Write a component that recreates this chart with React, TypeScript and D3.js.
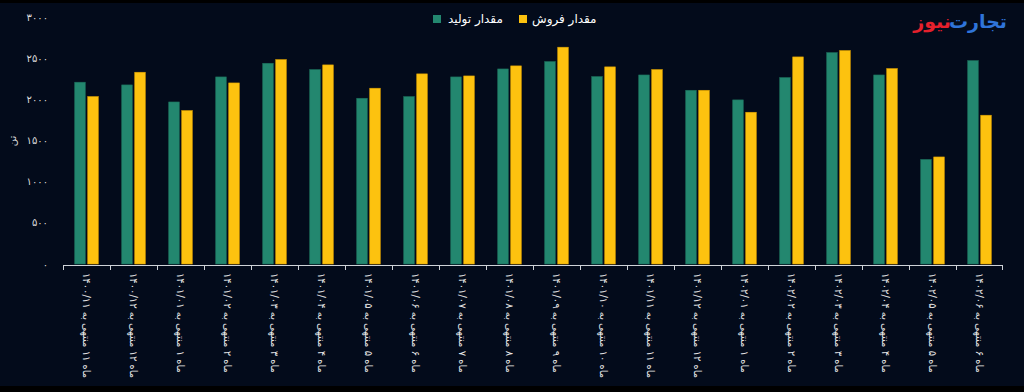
import React from 'react';
import * as d3 from 'd3';

// categories (months), production and sales in tonnes
const months = [
  'ماه ۱۱ منتهی به ۱۴۰۰/۱۱', 'ماه ۱۲ منتهی به ۱۴۰۰/۱۲', 'ماه ۱ منتهی به ۱۴۰۱/۰۱', 'ماه ۲ منتهی به ۱۴۰۱/۰۲',
  'ماه ۳ منتهی به ۱۴۰۱/۰۳', 'ماه ۴ منتهی به ۱۴۰۱/۰۴', 'ماه ۵ منتهی به ۱۴۰۱/۰۵', 'ماه ۶ منتهی به ۱۴۰۱/۰۶',
  'ماه ۷ منتهی به ۱۴۰۱/۰۷', 'ماه ۸ منتهی به ۱۴۰۱/۰۸', 'ماه ۹ منتهی به ۱۴۰۱/۰۹', 'ماه ۱۰ منتهی به ۱۴۰۱/۱۰',
  'ماه ۱۱ منتهی به ۱۴۰۱/۱۱', 'ماه ۱۲ منتهی به ۱۴۰۱/۱۲', 'ماه ۱ منتهی به ۱۴۰۲/۰۱', 'ماه ۲ منتهی به ۱۴۰۲/۰۲',
  'ماه ۳ منتهی به ۱۴۰۲/۰۳', 'ماه ۴ منتهی به ۱۴۰۲/۰۴', 'ماه ۵ منتهی به ۱۴۰۲/۰۵', 'ماه ۶ منتهی به ۱۴۰۲/۰۶',
];
const production = [2208, 2175, 1968, 2272, 2438, 2361, 2013, 2033, 2272, 2369, 2458, 2276, 2296, 2110, 1993, 2264, 2567, 2296, 1270, 2470];
const sales = [2033, 2329, 1863, 2199, 2482, 2418, 2135, 2309, 2284, 2406, 2633, 2394, 2361, 2110, 1843, 2515, 2592, 2373, 1300, 1807];
const yTicks = [0, 500, 1000, 1500, 2000, 2500, 3000];

const seriesKeys = ['production', 'sales'];
const seriesNames = { production: 'مقدار تولید', sales: 'مقدار فروش' };
const colors = { production: '#23876f', sales: '#fdc20f' };

const W = 1024;
const H = 392;
const font = '"DejaVu Sans", sans-serif';

const toFa = (s: string) => s.replace(/\d/g, (d) => '۰۱۲۳۴۵۶۷۸۹'[+d]);

export default function App() {
  const x0 = d3.scaleBand().domain(months).range([63, 1003]).paddingInner(0).paddingOuter(0);
  const x1 = d3.scaleBand().domain(seriesKeys).range([0, x0.bandwidth()]).paddingInner(0.19).paddingOuter(0.9);
  const y = d3.scaleLinear().domain([0, 3000]).range([264, 17]);
  const base = y(0);

  const rows = months.map((m, i) => ({ m, production: production[i], sales: sales[i] }));

  return (
    <svg width={W} height={H} style={{ position: 'absolute', left: 0, top: 0, display: 'block' }}>
      <rect x={0} y={0} width={W} height={H} fill="#000000" />
      <rect x={0} y={3} width={W} height={383} fill="#030b1b" />

      {/* legend */}
      <g fontFamily={font} fontSize={12} fill="#ffffff">
        <rect x={433} y={15} width={8} height={8} fill={colors.production} />
        <text x={448} y={23}>{seriesNames.production}</text>
        <rect x={519} y={15} width={8} height={8} fill={colors.sales} />
        <text x={532} y={23}>{seriesNames.sales}</text>
      </g>

      {/* logo */}
      <g fontFamily={font} fontSize={19} fontWeight="bold">
        <text x={1007} y={28} textAnchor="end" fill="#2f74d9">تجارت</text>
        <text x={951} y={28} textAnchor="end" fill="#e5202c">نیوز</text>
      </g>

      {/* y axis labels */}
      <g fontFamily={font} fontSize={10} fill="#dddddd">
        {yTicks.map((t) => (
          <text key={t} x={48} y={y(t)} textAnchor="end" dominantBaseline="central">{toFa(String(t))}</text>
        ))}
      </g>
      <text
        transform={`translate(12,141) rotate(-90)`}
        fontFamily={font}
        fontSize={10}
        fill="#dddddd"
        textAnchor="middle"
        dominantBaseline="central"
      >
        تن
      </text>

      {/* bars */}
      {rows.map((r) => (
        <g key={r.m} transform={`translate(${x0(r.m)},0)`}>
          {seriesKeys.map((k) => (
            <rect
              key={k}
              x={x1(k)}
              y={y(r[k])}
              width={x1.bandwidth()}
              height={base - y(r[k])}
              fill={colors[k]}
              stroke={k === 'sales' ? '#e0a200' : '#1d705c'}
              strokeWidth={0.6}
            />
          ))}
        </g>
      ))}

      {/* x axis */}
      <line x1={63} x2={1003} y1={265.5} y2={265.5} stroke="#cfd3d8" strokeWidth={1} />
      {months.map((m) => (
        <line key={'t' + m} x1={x0(m) + 0.5} x2={x0(m) + 0.5} y1={265} y2={270} stroke="#cfd3d8" />
      ))}
      <line x1={1002.5} x2={1002.5} y1={265} y2={270} stroke="#cfd3d8" />
      <g fontFamily={font} fontSize={10} fill="#e6e6e6">
        {months.map((m) => (
          <text
            key={'l' + m}
            transform={`translate(${x0(m) + x0.bandwidth() / 2},273) rotate(90)`}
            textAnchor="start"
            dominantBaseline="central"
          >
            {m}
          </text>
        ))}
      </g>
    </svg>
  );
}
